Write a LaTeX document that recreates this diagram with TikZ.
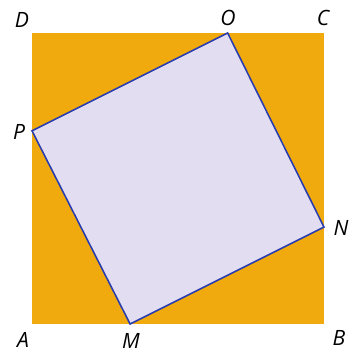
\documentclass[tikz,border=0pt]{standalone}
\usepackage{fontspec}
\setsansfont{Open Sans}
\usepackage{tikz}
\usetikzlibrary{positioning, calc}
\definecolor{squareorange}{RGB}{240, 170, 14}
\definecolor{innerlilac}{RGB}{226, 221, 240}
\definecolor{edgeblue}{RGB}{40, 60, 175}
\tikzset{
    vertex/.style={font=\fontsize{15}{17}\selectfont\sffamily\itshape, inner sep=1pt},
    outer/.style={fill=squareorange, draw=none},
    inner/.style={fill=innerlilac, draw=edgeblue, line width=1.1pt, line join=miter}
}

\begin{document}
\begin{tikzpicture}[x=0.025cm, y=-0.025cm]
    \useasboundingbox (0,0) rectangle (360,354);
    % --- CORNERS OF THE BIG SQUARE ---
    \coordinate (A) at (32,324);
    \coordinate (B) at (324,324);
    \coordinate (C) at (324,33);
    \coordinate (D) at (32,33);
    % --- POINTS ON THE SIDES ---
    \coordinate (M) at ($(A)!0.336!(B)$);
    \coordinate (N) at ($(B)!0.333!(C)$);
    \coordinate (O) at ($(C)!0.330!(D)$);
    \coordinate (P) at ($(D)!0.336!(A)$);

    % OUTER SQUARE ABCD
    \fill[outer] (A) -- (B) -- (C) -- (D) -- cycle;
    % INNER SQUARE MNOP
    \draw[inner] (M) -- (N) -- (O) -- (P) -- cycle;

    % Labels
    \node[vertex] (lA) at (23,340) {A};
    \node[vertex] (lB) at (339,338) {B};
    \node[vertex] (lC) at (323,18) {C};
    \node[vertex] (lD) at (22,20) {D};
    \node[vertex] (lM) at (131,341) {M};
    \node[vertex] (lN) at (341,228) {N};
    \node[vertex] (lO) at (228,18) {O};
    \node[vertex] (lP) at (19,132) {P};
\end{tikzpicture}
\end{document}
